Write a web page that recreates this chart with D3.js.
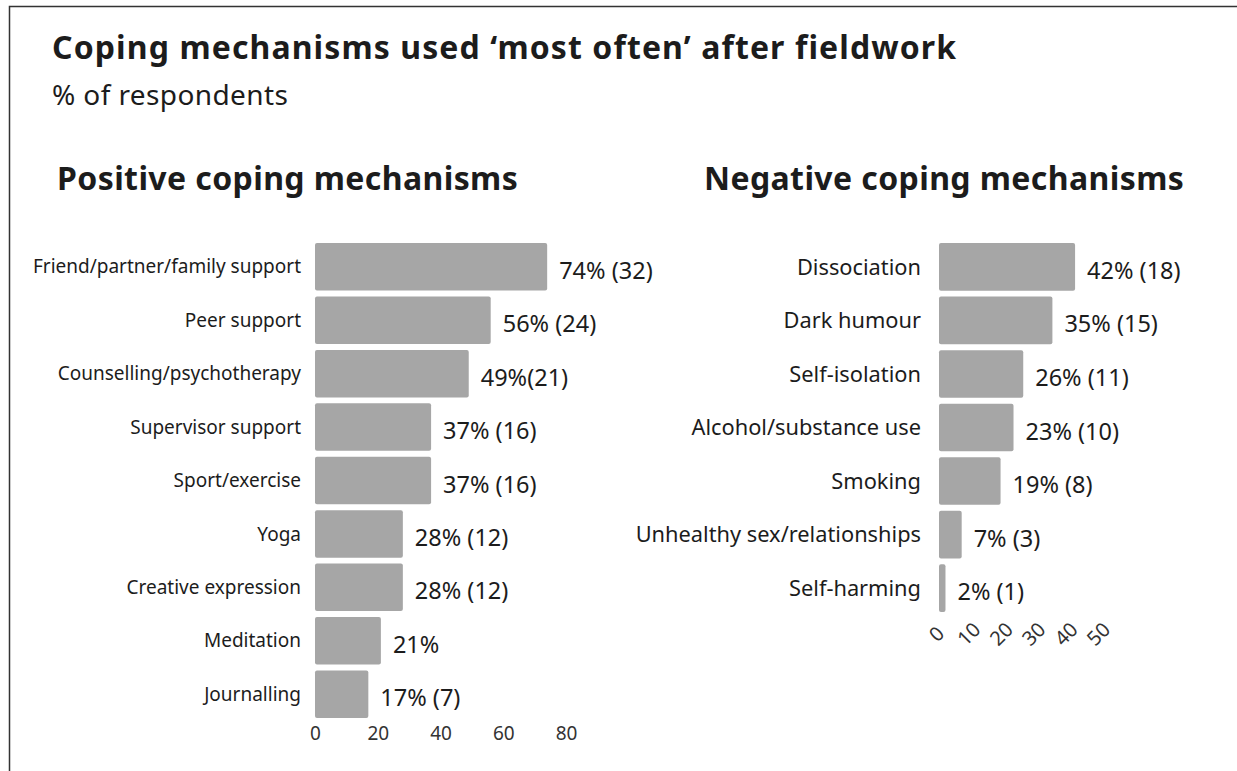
<!DOCTYPE html>
<html>
<head>
<meta charset="utf-8">
<script src="https://cdn.jsdelivr.net/npm/d3@7"></script>
<style>
  body { margin: 0; background: #fff; }
  svg { display: block; font-family: "Noto Sans", sans-serif; }
  .axis path, .axis line { display: none; }
</style>
</head>
<body>
<svg id="chart" width="1237" height="771"></svg>
<script>
const posCategories = [
  "Friend/partner/family support", "Peer support", "Counselling/psychotherapy",
  "Supervisor support", "Sport/exercise", "Yoga", "Creative expression",
  "Meditation", "Journalling"
];
const posValues = [74, 56, 49, 37, 37, 28, 28, 21, 17];
const posLabels = [
  "74% (32)", "56% (24)", "49%(21)", "37% (16)", "37% (16)",
  "28% (12)", "28% (12)", "21%", "17% (7)"
];
const posTicks = [0, 20, 40, 60, 80];

const negCategories = [
  "Dissociation", "Dark humour", "Self-isolation", "Alcohol/substance use",
  "Smoking", "Unhealthy sex/relationships", "Self-harming"
];
const negValues = [42, 35, 26, 23, 19, 7, 2];
const negLabels = [
  "42% (18)", "35% (15)", "26% (11)", "23% (10)", "19% (8)", "7% (3)", "2% (1)"
];
const negTicks = [0, 10, 20, 30, 40, 50];

const svg = d3.select("#chart");
const ink = "#1c1c1c";

// frame
svg.append("path")
  .attr("d", "M9.5,771 V6.5 H1237")
  .attr("fill", "none")
  .attr("stroke", "#333")
  .attr("stroke-width", 1.5);

svg.append("text")
  .attr("x", 52).attr("y", 59)
  .attr("font-size", 32).attr("font-weight", 700).attr("fill", ink)
  .attr("letter-spacing", 1.1)
  .text("Coping mechanisms used \u2018most often\u2019 after fieldwork");

svg.append("text")
  .attr("x", 52).attr("y", 105)
  .attr("font-size", 28).attr("fill", ink)
  .attr("letter-spacing", 0.4)
  .text("% of respondents");

function drawPanel(o) {
  const x = d3.scaleLinear().domain(o.domain).range(o.xRange);
  const y = d3.scaleBand()
    .domain(o.categories)
    .range([242, 242 + 53 * o.categories.length])
    .paddingInner(0.11).paddingOuter(0.02);

  svg.append("text")
    .attr("x", o.titleX).attr("y", 190)
    .attr("font-size", 32).attr("font-weight", 700).attr("fill", ink)
    .attr("letter-spacing", 0.4)
    .text(o.title);

  const g = svg.append("g");

  g.selectAll("rect")
    .data(o.values)
    .join("rect")
    .attr("x", x(0))
    .attr("y", (d, i) => y(o.categories[i]))
    .attr("width", d => x(d) - x(0))
    .attr("height", y.bandwidth())
    .attr("rx", 2)
    .attr("fill", "#a6a6a6");

  g.selectAll(".val")
    .data(o.values)
    .join("text")
    .attr("class", "val")
    .attr("x", d => x(d) + 12)
    .attr("y", (d, i) => y(o.categories[i]) + y.bandwidth() / 2 + 12)
    .attr("font-size", 23.5)
    .attr("fill", ink)
    .text((d, i) => o.labels[i]);

  const yAxis = svg.append("g")
    .attr("class", "axis")
    .attr("transform", `translate(${x(0) - o.labelGap},0)`)
    .call(d3.axisLeft(y).tickSize(0).tickPadding(0));
  yAxis.selectAll("text")
    .attr("font-size", o.labelSize).attr("fill", ink)
    .attr("font-family", "Noto Sans, sans-serif")
    .attr("dy", 0).attr("y", o.labelSize * 0.35);

  const xAxis = svg.append("g")
    .attr("class", "axis")
    .attr("transform", `translate(0,${y.range()[1]})`)
    .call(d3.axisBottom(x).tickValues(o.ticks).tickSize(0).tickPadding(0));
  xAxis.selectAll("text")
    .attr("font-size", o.tickSize).attr("fill", "#333")
    .attr("font-family", "Noto Sans, sans-serif");
  if (o.rotate) {
    xAxis.selectAll("text")
      .attr("text-anchor", "middle")
      .attr("y", 0).attr("dy", "0.35em")
      .attr("transform", "translate(-3,21) rotate(-45)");
  } else {
    xAxis.selectAll("text").attr("y", 21).attr("dy", 0);
  }
}

drawPanel({
  title: "Positive coping mechanisms", titleX: 57,
  categories: posCategories, values: posValues, labels: posLabels,
  domain: [0, 80], xRange: [315, 566], ticks: posTicks,
  labelGap: 14, labelSize: 19, tickSize: 19
});

drawPanel({
  title: "Negative coping mechanisms", titleX: 704,
  categories: negCategories, values: negValues, labels: negLabels,
  domain: [0, 50], xRange: [939, 1101], ticks: negTicks,
  labelGap: 18, labelSize: 21.8, tickSize: 20, rotate: true
});
</script>
</body>
</html>
